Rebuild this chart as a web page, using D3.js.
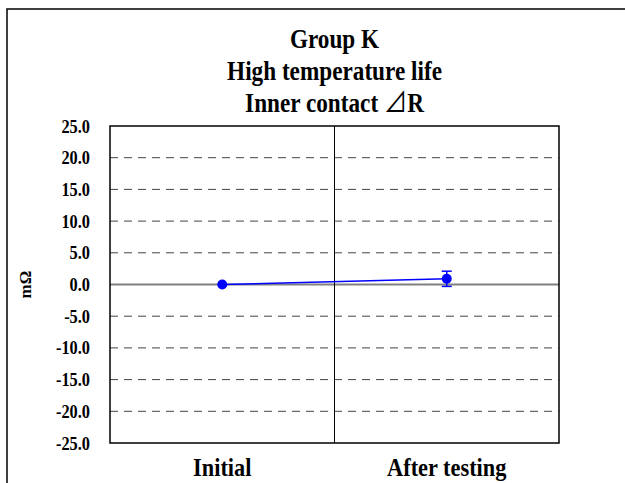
<!DOCTYPE html>
<html>
<head>
<meta charset="utf-8">
<script src="https://cdn.jsdelivr.net/npm/d3@7"></script>
<style>
  body { margin: 0; background: #fff; }
  text { font-family: "Liberation Serif", "Times New Roman", serif; font-weight: bold; fill: #000; }
</style>
</head>
<body>
<svg id="chart" width="625" height="483"></svg>
<script>
// chart data
const categories = ["Initial", "After testing"];
const meanValues = [0.0, 0.9];
const errorValues = [0.0, 1.2];
const yTicks = [25, 20, 15, 10, 5, 0, -5, -10, -15, -20, -25];
const titleLines = ["Group K", "High temperature life", "Inner contact \u22BFR"];

const margin = {top: 126, right: 66, bottom: 40, left: 110};
const width = 625 - margin.left - margin.right;
const height = 483 - margin.top - margin.bottom;
const squeeze = 0.86; // source text is horizontally condensed
const serif = "'Liberation Serif', 'Times New Roman', serif";

const svg = d3.select("#chart");

// outer frame
svg.append("rect")
    .attr("x", 7).attr("y", 9)
    .attr("width", 640).attr("height", 500)
    .attr("fill", "none").attr("stroke", "#000").attr("stroke-width", 1.5);

// titles (the triangle glyph is drawn from a CJK font, as in the source)
const titles = svg.selectAll(".title").data(titleLines).enter()
    .append("text")
    .attr("class", "title")
    .attr("transform", (d, i) => `translate(${margin.left + width / 2}, ${48 + i * 32}) scale(${squeeze},1)`)
    .attr("text-anchor", "middle")
    .style("font-size", "27px");
titles.each(function(d) {
    const t = d3.select(this);
    d.split(/(\u22BF)/).filter(s => s).forEach(s => {
        const span = t.append("tspan").text(s);
        if (s === "\u22BF") span.style("font-family", "'Noto Sans CJK JP'").style("font-weight", "normal");
    });
});

const root = svg.append("g")
    .attr("transform", `translate(${margin.left}, ${margin.top})`);

const x = d3.scaleBand().domain(categories).range([0, width]).padding(0);
const y = d3.scaleLinear().domain([-25, 25]).range([height, 0]);

// gridlines
root.selectAll(".grid").data(yTicks.filter(d => d !== 0 && Math.abs(d) !== 25)).enter()
    .append("line")
    .attr("x1", 0).attr("x2", width)
    .attr("y1", d => y(d)).attr("y2", d => y(d))
    .attr("stroke", "#444").attr("stroke-width", 1)
    .attr("stroke-dasharray", "8,6");

// zero line
root.append("line")
    .attr("x1", 0).attr("x2", width)
    .attr("y1", y(0)).attr("y2", y(0))
    .attr("stroke", "#808080").attr("stroke-width", 2);

// category separator
root.append("line")
    .attr("x1", x(categories[1])).attr("x2", x(categories[1]))
    .attr("y1", 0).attr("y2", height)
    .attr("stroke", "#000").attr("stroke-width", 1);

// plot border
root.append("rect")
    .attr("width", width).attr("height", height)
    .attr("fill", "none").attr("stroke", "#000").attr("stroke-width", 1.5);

// y axis labels
const yAxis = root.append("g")
    .call(d3.axisLeft(y).tickValues(yTicks).tickSize(0).tickPadding(20).tickFormat(d => d.toFixed(1)));
yAxis.select(".domain").remove();
yAxis.selectAll("text")
    .attr("x", 0)
    .attr("transform", `translate(-20,0) scale(${squeeze},1)`)
    .style("font-size", "19px")
    .style("font-family", serif)
    .style("font-weight", "bold");

// x axis labels
const xAxis = root.append("g")
    .attr("transform", `translate(0, ${height})`)
    .call(d3.axisBottom(x).tickSize(0).tickPadding(15));
xAxis.select(".domain").remove();
xAxis.selectAll("text")
    .attr("dy", "0.71em")
    .attr("transform", `scale(${squeeze},1)`)
    .style("font-size", "26px")
    .style("font-family", serif)
    .style("font-weight", "bold");

// y axis title
svg.append("text")
    .attr("transform", `translate(31, ${margin.top + y(0)}) rotate(-90)`)
    .attr("text-anchor", "middle")
    .style("font-size", "17px")
    .text("m\u03A9");

// series
const points = categories.map((c, i) => ({cat: c, v: meanValues[i], e: errorValues[i]}));
const cx = d => x(d.cat) + x.bandwidth() / 2;

root.append("path")
    .datum(points)
    .attr("fill", "none")
    .attr("stroke", "#0000ff")
    .attr("stroke-width", 1.5)
    .attr("d", d3.line().x(cx).y(d => y(d.v)));

const eb = root.selectAll(".err").data(points.filter(d => d.e > 0)).enter().append("g");
eb.append("line")
    .attr("x1", cx).attr("x2", cx)
    .attr("y1", d => y(d.v + d.e)).attr("y2", d => y(d.v - d.e))
    .attr("stroke", "#0000ff").attr("stroke-width", 1.5);
eb.selectAll(".cap").data(d => [d.v + d.e, d.v - d.e].map(v => ({d, v}))).enter()
    .append("line")
    .attr("x1", o => cx(o.d) - 5).attr("x2", o => cx(o.d) + 5)
    .attr("y1", o => y(o.v)).attr("y2", o => y(o.v))
    .attr("stroke", "#0000ff").attr("stroke-width", 1.5);

root.selectAll(".pt").data(points).enter()
    .append("circle")
    .attr("cx", cx).attr("cy", d => y(d.v))
    .attr("r", 5)
    .attr("fill", "#0000ff");
</script>
</body>
</html>
